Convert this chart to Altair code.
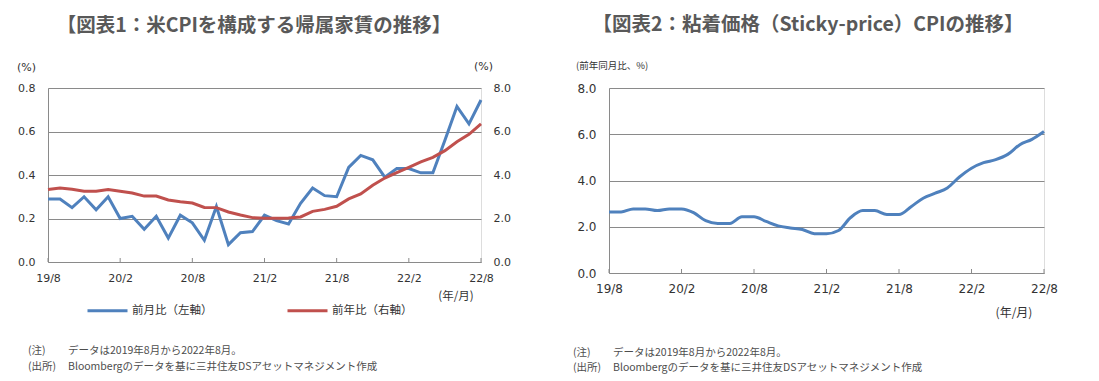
import altair as alt
import pandas as pd

months = ["19/8", "19/9", "19/10", "19/11", "19/12", "20/1", "20/2", "20/3", "20/4", "20/5",
          "20/6", "20/7", "20/8", "20/9", "20/10", "20/11", "20/12", "21/1", "21/2", "21/3",
          "21/4", "21/5", "21/6", "21/7", "21/8", "21/9", "21/10", "21/11", "21/12", "22/1",
          "22/2", "22/3", "22/4", "22/5", "22/6", "22/7", "22/8"]
tick_months = ["19/8", "20/2", "20/8", "21/2", "21/8", "22/2", "22/8"]

# 帰属家賃 前月比 (%)
mom = [0.29, 0.29, 0.25, 0.30, 0.24, 0.30, 0.20, 0.21, 0.15, 0.21,
       0.11, 0.215, 0.18, 0.10, 0.255, 0.08, 0.135, 0.14, 0.215, 0.19,
       0.175, 0.27, 0.34, 0.305, 0.30, 0.435, 0.49, 0.47, 0.39, 0.43,
       0.43, 0.41, 0.41, 0.56, 0.715, 0.635, 0.745]
# 帰属家賃 前年比 (%)
yoy = [3.33, 3.40, 3.34, 3.25, 3.25, 3.33, 3.25, 3.17, 3.03, 3.03,
       2.85, 2.77, 2.71, 2.51, 2.50, 2.30, 2.16, 2.04, 2.01, 2.01,
       2.02, 2.07, 2.33, 2.42, 2.56, 2.90, 3.13, 3.53, 3.86, 4.11,
       4.35, 4.60, 4.81, 5.12, 5.53, 5.87, 6.35]
# Sticky-price CPI 前年同月比 (%)
sticky = [2.64, 2.64, 2.77, 2.77, 2.70, 2.77, 2.77, 2.61, 2.26, 2.14,
          2.14, 2.43, 2.43, 2.23, 2.04, 1.95, 1.88, 1.70, 1.70, 1.84,
          2.40, 2.70, 2.70, 2.53, 2.53, 2.87, 3.23, 3.45, 3.68, 4.15,
          4.53, 4.77, 4.90, 5.13, 5.55, 5.78, 6.12]

series_names = ["前月比（左軸）", "前年比（右軸）"]
series_colors = ["#4F81BD", "#C0504D"]

df = pd.DataFrame({"month": months, "mom": mom, "yoy": yoy, "sticky": sticky})
ticks_df = pd.DataFrame({"month": tick_months})

GRAY = "#8a8a8a"
TXT = "#333333"
NOTE = "#4d4d4d"
JP = "Noto Sans CJK JP"
NUM = "DejaVu Sans"

W1, H1 = 433, 174
W2, H2 = 435, 185

xscale = alt.Scale(domain=months, type="point", padding=0)


def xaxis(fs):
    return alt.Axis(values=tick_months, labelAngle=0, ticks=False, domainColor=GRAY,
                    labelFont=NUM, labelFontSize=fs, labelColor=TXT, labelPadding=10,
                    grid=False, title=None)


def txt(s, x, y, size=11, color=TXT, weight="normal", align="left", font=JP):
    return alt.Chart(pd.DataFrame({"t": [s]})).mark_text(
        align=align, baseline="middle", fontSize=size, font=font, color=color,
        fontWeight=weight
    ).encode(x=alt.value(x), y=alt.value(y), text="t:N")


colscale = alt.Scale(domain=series_names, range=series_colors)
legend = alt.Legend(orient="none", legendX=38, legendY=201, direction="horizontal",
                    symbolType="stroke", symbolSize=1600, symbolStrokeWidth=3,
                    labelFont=JP, labelFontSize=11.5, labelColor=TXT, labelOffset=3,
                    columnPadding=68, title=None)

# ---------- left panel ----------
base = alt.Chart(df)
blue = base.transform_calculate(s=f"'{series_names[0]}'").mark_line(strokeWidth=3).encode(
    x=alt.X("month:O", scale=xscale, axis=xaxis(11)),
    y=alt.Y("mom:Q", scale=alt.Scale(domain=[0, 0.8], nice=False),
            axis=alt.Axis(values=[0, 0.2, 0.4, 0.6, 0.8], format=".1f", grid=True,
                          gridColor=GRAY, domainColor=GRAY, ticks=False, labelPadding=13,
                          labelFont=NUM, labelFontSize=11, labelColor=TXT, title=None)),
    color=alt.Color("s:N", scale=colscale, legend=legend),
)
red = base.transform_calculate(s=f"'{series_names[1]}'").mark_line(strokeWidth=3).encode(
    x=alt.X("month:O", scale=xscale, axis=xaxis(11)),
    y=alt.Y("yoy:Q", scale=alt.Scale(domain=[0, 8], nice=False),
            axis=alt.Axis(orient="right", values=[0, 2, 4, 6, 8], format=".1f", grid=False,
                          domain=False, ticks=False, labelPadding=12,
                          labelFont=NUM, labelFontSize=11, labelColor=TXT, title=None)),
    color=alt.Color("s:N", scale=colscale, legend=legend),
)
lticks = alt.Chart(ticks_df).mark_rule(color=GRAY).encode(
    x=alt.X("month:O", scale=xscale, axis=xaxis(11)),
    y=alt.value(H1 - 4), y2=alt.value(H1))

anchor = alt.Chart(pd.DataFrame({"a": [0]})).mark_rule(opacity=0, strokeWidth=0.01).encode(
    x=alt.value(-38.7), x2=alt.value(-38), y=alt.value(-79), y2=alt.value(-78))

left_lines = alt.layer(blue, red).resolve_scale(y="independent")
left = alt.layer(
    lticks, left_lines,
    txt("【図表1：米CPIを構成する帰属家賃の推移】", 206, -62, size=19.5, color="#595959",
        weight="bold", align="center"),
    txt("(%)", -31, -20, size=11, font=NUM),
    txt("(%)", 426, -21, size=11, font=NUM),
    txt("(年/月)", 408, 209, size=11.5, align="center"),
    txt("(注)", -20, 263, size=10.5, color=NOTE),
    txt("データは2019年8月から2022年8月。", 20, 263, size=10.5, color=NOTE),
    txt("(出所)", -20, 279, size=10.5, color=NOTE),
    txt("Bloombergのデータを基に三井住友DSアセットマネジメント作成", 20, 279, size=10.5, color=NOTE),
    anchor,
).properties(width=W1, height=H1)

# ---------- right panel ----------
rline = alt.Chart(df).mark_line(strokeWidth=3, color="#4F81BD", interpolate="monotone").encode(
    x=alt.X("month:O", scale=xscale, axis=xaxis(12)),
    y=alt.Y("sticky:Q", scale=alt.Scale(domain=[0, 8], nice=False),
            axis=alt.Axis(values=[0, 2, 4, 6, 8], format=".1f", grid=True, gridColor=GRAY,
                          domainColor=GRAY, ticks=False, labelPadding=13, labelFont=NUM,
                          labelFontSize=12, labelColor=TXT, title=None)),
)
rticks = alt.Chart(ticks_df).mark_rule(color=GRAY).encode(
    x=alt.X("month:O", scale=xscale, axis=xaxis(12)),
    y=alt.value(H2 - 4), y2=alt.value(H2))

right = alt.layer(
    rticks, rline,
    txt("【図表2：粘着価格（Sticky-price）CPIの推移】", 199, -63, size=19.5, color="#595959",
        weight="bold", align="center"),
    txt("(前年同月比、%)", -33, -22, size=9.5),
    txt("(年/月)", 405, 225, size=12, align="center"),
    txt("(注)", -36, 265, size=10.5, color=NOTE),
    txt("データは2019年8月から2022年8月。", 4, 265, size=10.5, color=NOTE),
    txt("(出所)", -36, 280, size=10.5, color=NOTE),
    txt("Bloombergのデータを基に三井住友DSアセットマネジメント作成", 4, 280, size=10.5, color=NOTE),
).properties(width=W2, height=H2)

chart = alt.hconcat(left, right, spacing=128, bounds="flush", padding=0).configure_view(
    stroke=None).configure(background="white")

chart.save("out.html", embed_options={"renderer": "svg", "actions": False})
